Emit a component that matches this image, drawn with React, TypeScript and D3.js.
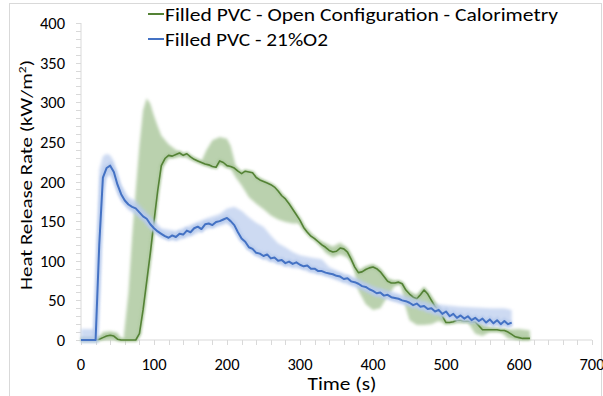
import React from 'react';
import * as d3 from 'd3';

// Time grids (s)
const greenTime = d3.range(0, 620, 5);
const blueTime = d3.range(0, 595, 5);

// Filled PVC - Open Configuration - Calorimetry (kW/m2)
const greenHRR = [
  0, 0, 0, 0, 0, 1, 3, 5, 6, 5, 1, 0, 0, 0, 0, 0,
  8, 38, 74, 110, 150, 188, 220, 229, 233, 232, 234, 236, 233, 235, 231, 228,
  226, 224, 222, 221, 219, 218, 226, 224, 220, 219, 217, 213, 210, 213, 212, 211,
  205, 202, 200, 198, 196, 193, 188, 182, 178, 172, 165, 158, 151, 142, 136, 131,
  128, 124, 120, 117, 113, 111, 112, 116, 115, 111, 102, 92, 85, 86, 89, 91,
  92, 90, 86, 80, 74, 72, 72, 73, 71, 63, 58, 54, 52, 57, 63, 58,
  50, 42, 38, 30, 22, 22, 23, 25, 25, 24, 24, 23, 23, 18, 13, 13,
  13, 13, 13, 12, 12, 10, 7, 4, 3, 2, 2, 2,
];

// Filled PVC - 21%O2 (kW/m2)
const blueHRR = [
  0, 0, 0, 0, 0, 120, 205, 217, 220, 212, 196, 184, 176, 171, 168, 166,
  161, 156, 153, 146, 141, 137, 134, 131, 129, 132, 130, 134, 133, 138, 136, 141,
  143, 140, 146, 147, 145, 149, 150, 152, 154, 150, 145, 136, 128, 124, 117, 115,
  110, 109, 106, 108, 103, 104, 100, 101, 97, 99, 96, 98, 95, 93, 94, 90,
  90, 87, 87, 85, 84, 83, 81, 80, 77, 78, 74, 73, 71, 68, 67, 64,
  62, 59, 60, 56, 57, 54, 53, 52, 50, 49, 47, 44, 46, 42, 43, 39,
  40, 36, 38, 33, 36, 30, 33, 28, 31, 27, 30, 25, 28, 24, 27, 22,
  26, 21, 25, 20, 24, 20, 22,
];

// Uncertainty bands
const greenBandTime = [
  0, 25, 30, 40, 50, 55, 58, 65, 70, 75, 80, 85, 90, 95, 100, 105, 110, 120, 130, 140,
  165, 172, 180, 190, 200, 205, 212, 220, 230, 240, 250, 260, 270, 280, 290, 298, 305,
  325, 335, 345, 355, 365, 372, 380, 390, 400, 410, 420, 430, 438, 445, 450, 460, 470,
  480, 490, 500, 505, 530, 540, 550, 560, 575, 585, 600, 615,
];
const greenBandLow = [
  0, 0, 0, 0, 0, 0, 0, 0, 0, 0, 5, 35, 70, 105, 145, 183, 215, 229, 230, 232,
  222, 220, 217, 222, 217, 216, 205, 195, 180, 172, 165, 157, 152, 149, 147, 147, 140,
  122, 110, 104, 108, 104, 98, 62, 45, 38, 40, 55, 68, 70, 40, 25, 19, 19,
  20, 24, 20, 21, 22, 8, 5, 10, 10, 2, 0, 0,
];
const greenBandHigh = [
  3, 4, 10, 11, 9, 2, 0, 60, 130, 190, 245, 290, 305, 298, 283, 270, 258, 247, 240, 236,
  226, 240, 252, 256, 254, 245, 220, 212, 213, 206, 201, 197, 189, 179, 166, 154, 144,
  126, 122, 118, 123, 116, 104, 88, 93, 96, 90, 78, 75, 74, 66, 61, 57, 67,
  55, 42, 24, 24, 26, 26, 20, 16, 14, 13, 14, 12,
];

const blueBandTime = [
  0, 18, 21, 25, 30, 35, 40, 45, 50, 55, 65, 75, 85, 95, 110, 130, 150, 170, 190, 200,
  210, 220, 230, 240, 250, 260, 270, 280, 290, 300, 315, 330, 340, 360, 380, 400, 420,
  440, 460, 480, 500, 520, 540, 560, 580, 590,
];
const blueBandLow = [
  0, 0, 0, 60, 190, 205, 208, 200, 186, 176, 164, 158, 150, 140, 129, 125, 131, 139, 144, 147,
  140, 124, 113, 106, 102, 99, 96, 93, 91, 90, 85, 82, 79, 72, 65, 56, 51,
  45, 40, 33, 28, 24, 21, 19, 17, 16,
];
const blueBandHigh = [
  14, 14, 60, 215, 232, 235, 233, 226, 210, 196, 180, 176, 166, 156, 141, 138, 145, 153, 159, 166,
  168, 163, 155, 148, 143, 132, 122, 117, 111, 107, 104, 102, 92, 84, 77, 68, 63,
  57, 52, 46, 44, 42, 41, 40, 40, 38,
];

const xTicks = [0, 100, 200, 300, 400, 500, 600, 700];
const yTicks = [0, 50, 100, 150, 200, 250, 300, 350, 400];

const legendLabels = [
  'Filled PVC - Open Configuration - Calorimetry',
  'Filled PVC - 21%O2',
];
const legendWidths = [393, 163];

const W = 603;
const H = 396;
const FONT = 'Carlito, Calibri, Lato, sans-serif';
const GREEN = '#548235';
const BLUE = '#4472c4';

export default function App() {
  const x = d3.scaleLinear().domain([0, 700]).range([81, 592]);
  const y = d3.scaleLinear().domain([0, 400]).range([340, 23]);

  const line = d3
    .line<[number, number]>()
    .x((d) => x(d[0]))
    .y((d) => y(d[1]));

  const makeBand = (t: number[], lo: number[], hi: number[]) =>
    d3
      .area<number>()
      .x((i) => x(t[i]))
      .y0((i) => y(lo[i]))
      .y1((i) => y(hi[i]))(d3.range(t.length)) || '';

  const greenPts = greenTime.map((t, i) => [t, greenHRR[i]] as [number, number]);
  const bluePts = blueTime.map((t, i) => [t, blueHRR[i]] as [number, number]);

  const xMinor = d3.range(0, 701, 20);
  const yMinor = d3.range(0, 401, 10);

  return (
    <div style={{ position: 'fixed', left: 0, top: 0 }}>
      <svg width={W} height={H} style={{ display: 'block', background: '#fff' }}>
        <defs>
          <filter id="soft" x="-5%" y="-5%" width="110%" height="110%">
            <feGaussianBlur stdDeviation="1.6" />
          </filter>
          <filter id="halo" x="-5%" y="-5%" width="110%" height="110%">
            <feGaussianBlur stdDeviation="1.2" />
          </filter>
        </defs>

        <rect x={9.5} y={3.5} width={592} height={420} fill="none" stroke="#d9d9d9" />

        {/* axes */}
        <line x1={81} x2={81} y1={y(400)} y2={y(0)} stroke="#d9d9d9" />
        <line x1={81} x2={x(700)} y1={y(0)} y2={y(0)} stroke="#d9d9d9" />
        {yMinor.map((v) => (
          <line key={'ym' + v} x1={76} x2={81} y1={Math.round(y(v)) + 0.5} y2={Math.round(y(v)) + 0.5} stroke="#d9d9d9" />
        ))}
        {xMinor.map((v) => (
          <line key={'xm' + v} x1={Math.round(x(v)) + 0.5} x2={Math.round(x(v)) + 0.5} y1={340} y2={345} stroke="#d9d9d9" />
        ))}
        {yTicks.map((v) => (
          <text key={'yt' + v} x={65} y={y(v) + 6} textAnchor="end" fontFamily={FONT} fontSize={16.5} fill="#000">
            {v}
          </text>
        ))}
        {xTicks.map((v) => (
          <text key={'xt' + v} x={x(v)} y={370} textAnchor="middle" fontFamily={FONT} fontSize={16.5} fill="#000">
            {v}
          </text>
        ))}

        <text x={342} y={390} textAnchor="middle" fontFamily={FONT} fontSize={18} fill="#000" textLength={69} lengthAdjust="spacingAndGlyphs">
          Time (s)
        </text>
        <text transform="translate(32,175) rotate(-90)" textAnchor="middle" fontFamily={FONT} fontSize={17} fill="#000" textLength={230} lengthAdjust="spacingAndGlyphs">
          Heat Release Rate (kW/m<tspan dy={-6} fontSize={11}>2</tspan>
          <tspan dy={6}>)</tspan>
        </text>

        {/* green series */}
        <path d={makeBand(greenBandTime, greenBandLow, greenBandHigh)} fill="#a9c59a" fillOpacity={0.8} filter="url(#soft)" />
        <path d={line(greenPts) || ''} fill="none" stroke="#a9c59a" strokeWidth={4} strokeOpacity={0.8} filter="url(#halo)" />
        <path d={line(greenPts) || ''} fill="none" stroke={GREEN} strokeWidth={1.6} strokeLinejoin="round" />

        {/* blue series */}
        <path d={makeBand(blueBandTime, blueBandLow, blueBandHigh)} fill="#b8caec" fillOpacity={0.7} filter="url(#soft)" />
        <path d={line(bluePts) || ''} fill="none" stroke="#b8caec" strokeWidth={6} strokeOpacity={0.8} filter="url(#halo)" />
        <path d={line(bluePts) || ''} fill="none" stroke={BLUE} strokeWidth={2} strokeLinejoin="round" />

        {/* legend */}
        {legendLabels.map((label, i) => (
          <g key={label} transform={`translate(148,${14 + i * 25})`}>
            <line x1={0} x2={16} y1={0} y2={0} stroke={i === 0 ? GREEN : BLUE} strokeWidth={2} />
            <text x={17} y={7} fontFamily={FONT} fontSize={17.5} fill="#000" textLength={legendWidths[i]} lengthAdjust="spacingAndGlyphs">
              {label}
            </text>
          </g>
        ))}
      </svg>
    </div>
  );
}
